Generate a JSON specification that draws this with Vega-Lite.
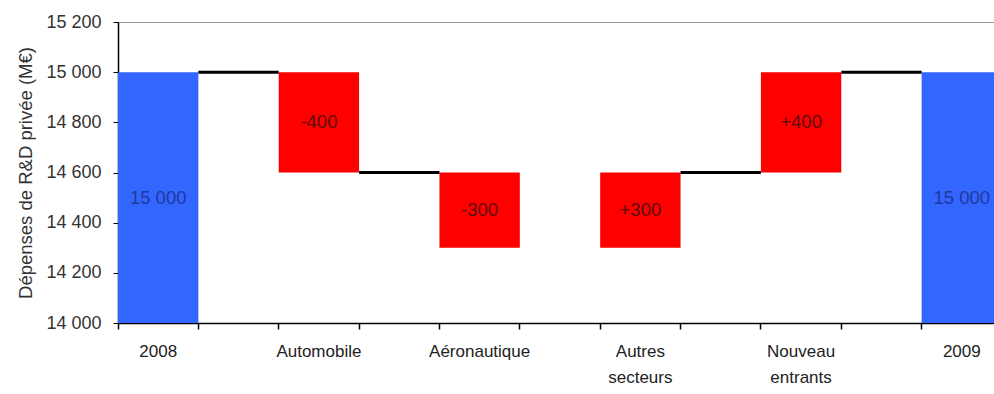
{
  "$schema": "https://vega.github.io/schema/vega-lite/v6.json",
  "width": 884,
  "height": 301,
  "autosize": {"type": "none"},
  "padding": {"left": 118, "top": 22, "right": -8, "bottom": 71},
  "background": "white",
  "config": {
    "font": "Liberation Sans",
    "view": {"stroke": "#999999", "strokeWidth": 1},
    "locale": {"number": {"decimal": ",", "thousands": " ", "grouping": [3], "currency": ["", " €"]}}
  },
  "data": {
    "values": [
      {"cat": "2008", "kind": "total", "start": 14000, "end": 15000, "lbl": "15 000"},
      {"cat": "gap1", "kind": "link", "start": 15000, "end": 15000},
      {"cat": "Automobile", "kind": "change", "start": 15000, "end": 14600, "lbl": "-400"},
      {"cat": "gap2", "kind": "link", "start": 14600, "end": 14600},
      {"cat": "Aéronautique", "kind": "change", "start": 14600, "end": 14300, "lbl": "-300"},
      {"cat": "Autres|secteurs", "kind": "change", "start": 14300, "end": 14600, "lbl": "+300"},
      {"cat": "gap4", "kind": "link", "start": 14600, "end": 14600},
      {"cat": "Nouveau|entrants", "kind": "change", "start": 14600, "end": 15000, "lbl": "+400"},
      {"cat": "gap5", "kind": "link", "start": 15000, "end": 15000},
      {"cat": "2009", "kind": "total", "start": 14000, "end": 15000, "lbl": "15 000"}
    ]
  },
  "resolve": {"axis": {"x": "independent", "y": "shared"}},
  "layer": [
    {
      "transform": [{"filter": "datum.kind != 'link'"}],
      "mark": {"type": "bar"},
      "encoding": {
        "x": {
          "field": "cat", "type": "nominal", "sort": null,
          "scale": {"domain": ["2008", "gap1", "Automobile", "gap2", "Aéronautique", "gap3", "Autres|secteurs", "gap4", "Nouveau|entrants", "gap5", "2009"], "paddingInner": 0, "paddingOuter": 0},
          "axis": {
            "orient": "bottom", "title": null, "labelAngle": 0, "ticks": false,
            "domain": true, "domainColor": "#000000", "domainWidth": 1.5,
            "labelExpr": "indexof(datum.value, 'gap') == 0 ? '' : split(datum.value, '|')",
            "labelFontSize": 17, "labelColor": "#222222", "labelPadding": 28, "labelLineHeight": 26,
            "labelBaseline": "middle", "labelFont": "Liberation Sans"
          }
        },
        "y": {
          "field": "start", "type": "quantitative",
          "scale": {"domain": [14000, 15200], "nice": false, "zero": false},
          "axis": {
            "title": "Dépenses de R&D privée (M€)", "values": [14000, 14200, 14400, 14600, 14800, 15000, 15200],
            "format": ",d", "grid": false, "domainColor": "#000000", "tickColor": "#000000", "domainWidth": 1.5,
            "tickSize": 5, "labelPadding": 12, "labelFontSize": 18, "labelColor": "#333333",
            "titleFontSize": 18.5, "titleFontWeight": "normal", "titleColor": "#333333", "titlePadding": 10,
            "labelFont": "Liberation Sans", "titleFont": "Liberation Sans"
          }
        },
        "y2": {"field": "end"},
        "color": {
          "field": "kind", "type": "nominal",
          "scale": {"domain": ["total", "change"], "range": ["#3366FF", "#FF0000"]},
          "legend": null
        }
      }
    },
    {
      "transform": [{"filter": "datum.kind == 'link'"}],
      "mark": {"type": "bar", "stroke": "#000000", "strokeWidth": 3, "fill": "#000000"},
      "encoding": {
        "x": {
          "field": "cat", "type": "nominal", "sort": null,
          "axis": {
            "orient": "bottom", "title": null, "labels": false, "ticks": true, "bandPosition": 0,
            "tickSize": 6, "tickColor": "#000000", "tickWidth": 1.5, "domain": false
          }
        },
        "y": {"field": "start", "type": "quantitative"},
        "y2": {"field": "end"}
      }
    },
    {
      "transform": [
        {"filter": "datum.kind != 'link'"},
        {"fold": ["start", "end"], "as": ["edge", "level"]}
      ],
      "mark": {"type": "text", "fontSize": 18.5, "font": "Liberation Sans", "align": "center", "baseline": "middle"},
      "encoding": {
        "x": {"field": "cat", "type": "nominal", "sort": null, "axis": null},
        "y": {"aggregate": "mean", "field": "level", "type": "quantitative"},
        "text": {"field": "lbl", "type": "nominal"},
        "detail": {"field": "kind", "type": "nominal"},
        "color": {"condition": {"test": "datum.kind == 'total'", "value": "#1f3a9c"}, "value": "#5c0a0a"}
      }
    }
  ]
}
